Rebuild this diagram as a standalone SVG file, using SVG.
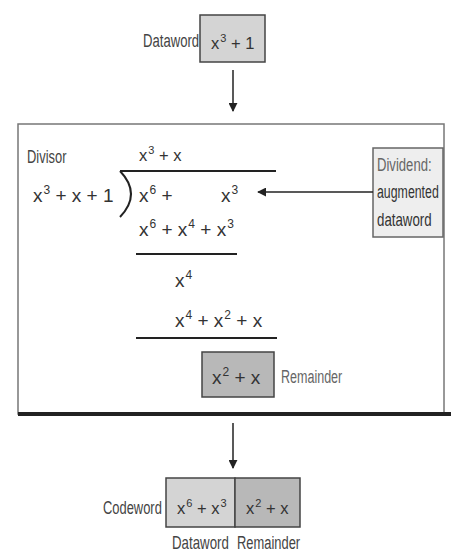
<svg xmlns="http://www.w3.org/2000/svg" width="451" height="554" viewBox="0 0 451 554">
<style>
text{font-family:"Liberation Sans",Arial,sans-serif;font-size:19px;fill:#333}
.lbl{fill:#444}
.gray{fill:#666}
.sup{font-size:12px}
.sm{font-size:16.5px}
.sm .sup{font-size:11px}
.box1{fill:#d4d4d4;stroke:#444;stroke-width:1.5}
.box2{fill:#b8b8b8;stroke:#444;stroke-width:1.5}
.rule{stroke:#222;stroke-width:2}
.conn{stroke:#222;stroke-width:1.5;fill:none}
</style>
<defs>
<marker id="ah" viewBox="0 0 10 10" refX="9" refY="5" markerWidth="9" markerHeight="9" markerUnits="userSpaceOnUse" orient="auto">
<path d="M0,0 L10,5 L0,10 z" fill="#222"/>
</marker>
</defs>

<g id="dataword-top">
<rect class="box1" x="200" y="15" width="65" height="47"/>
<text transform="translate(143,47) scale(0.69,1)" class="lbl">Dataword</text>
<text x="211" y="49" class="sm">x<tspan class="sup" dx="1" dy="-7">3</tspan><tspan dy="7"> + 1</tspan></text>
</g>

<g id="division">
<rect x="18" y="124" width="426" height="290" fill="#fff" stroke="#777" stroke-width="1.5"/>
<line x1="18" y1="414" x2="451" y2="414" stroke="#222" stroke-width="4"/>
<text transform="translate(27,163) scale(0.68,1)" class="lbl">Divisor</text>
<text x="139" y="161" class="sm">x<tspan class="sup" dx="1" dy="-7">3</tspan><tspan dy="7"> + x</tspan></text>
<line class="rule" x1="120" y1="171" x2="276" y2="171"/>
<path d="M120,171 Q142,194 120,217" fill="none" stroke="#222" stroke-width="2"/>
<text x="33" y="202">x<tspan class="sup" dx="1" dy="-8">3</tspan><tspan dy="8"> + x + 1</tspan></text>
<text x="139" y="202">x<tspan class="sup" dx="1" dy="-8">6</tspan><tspan dy="8"> +</tspan></text>
<text x="221" y="202">x<tspan class="sup" dx="1" dy="-8">3</tspan></text>
<text x="139" y="236">x<tspan class="sup" dx="1" dy="-8">6</tspan><tspan dy="8"> + x</tspan><tspan class="sup" dx="1" dy="-8">4</tspan><tspan dy="8"> + x</tspan><tspan class="sup" dx="1" dy="-8">3</tspan></text>
<line class="rule" x1="136" y1="254" x2="237" y2="254"/>
<text x="175" y="287">x<tspan class="sup" dx="1" dy="-8">4</tspan></text>
<text x="175" y="327">x<tspan class="sup" dx="1" dy="-8">4</tspan><tspan dy="8"> + x</tspan><tspan class="sup" dx="1" dy="-8">2</tspan><tspan dy="8"> + x</tspan></text>
<line class="rule" x1="136" y1="338" x2="277" y2="338"/>
</g>

<g id="dividend">
<rect x="373" y="148" width="70" height="89" fill="#eee" stroke="#666" stroke-width="1.5"/>
<text transform="translate(377,171) scale(0.69,1)" class="gray">Dividend:</text>
<text transform="translate(377,198) scale(0.65,1)">augmented</text>
<text transform="translate(377,226) scale(0.7,1)">dataword</text>
</g>

<g id="remainder">
<rect class="box2" x="202" y="352" width="72" height="45"/>
<text x="212" y="384">x<tspan class="sup" dx="1" dy="-8">2</tspan><tspan dy="8"> + x</tspan></text>
<text transform="translate(281,383) scale(0.66,1)" class="gray">Remainder</text>
</g>

<g id="codeword">
<rect class="box1" x="166" y="478" width="69" height="49"/>
<rect class="box2" x="235" y="478" width="65" height="49"/>
<text transform="translate(103,514) scale(0.68,1)" class="lbl">Codeword</text>
<text x="177" y="514" class="sm">x<tspan class="sup" dx="1" dy="-7">6</tspan><tspan dy="7"> + x</tspan><tspan class="sup" dx="1" dy="-7">3</tspan></text>
<text x="246" y="514" class="sm">x<tspan class="sup" dx="1" dy="-7">2</tspan><tspan dy="7"> + x</tspan></text>
<text transform="translate(172,549) scale(0.7,1)" class="lbl">Dataword</text>
<text transform="translate(237,549) scale(0.68,1)" class="lbl">Remainder</text>
</g>

<g id="connectors">
<line class="conn" x1="233" y1="70" x2="233" y2="111" marker-end="url(#ah)"/>
<line class="conn" x1="373" y1="192" x2="258" y2="192" marker-end="url(#ah)"/>
<line class="conn" x1="233" y1="423" x2="233" y2="468" marker-end="url(#ah)"/>
</g>
</svg>
